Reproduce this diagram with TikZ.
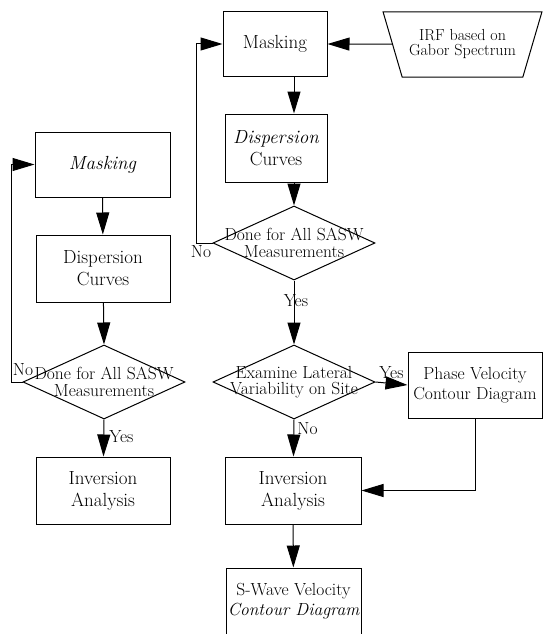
\documentclass[tikz,border=0pt]{standalone}
\usepackage{fontspec}
\usetikzlibrary{arrows.meta,shapes.geometric}

\begin{document}
\begin{tikzpicture}[x=1pt,y=-1pt,line width=1pt,
  procbox/.style={draw,align=center,inner sep=0pt,font=\fontsize{19}{22}\selectfont},
  widebox/.style={procbox,font=\fontsize{17.5}{20}\selectfont},
  decbox/.style={draw,diamond,inner sep=0pt,minimum width=162pt,minimum height=74pt},
  dectext/.style={align=center,inner sep=0pt,font=\fontsize{17.5}{16.5}\selectfont},
  tag/.style={inner sep=0pt,font=\fontsize{17.5}{17.5}\selectfont},
  flow/.style={-{Triangle[length=22pt,width=13pt]}}]
  \useasboundingbox (0,0) rectangle (543,634);
  % left column
  \node[procbox,minimum width=135pt,minimum height=65pt] (Lmask) at (102.5,164.5) {\itshape Masking};
  \node[procbox,minimum width=134pt,minimum height=67pt] (Ldisp) at (103,268.5) {Dispersion\\Curves};
  \node[decbox] (Ldec) at (104,382) {};
  \node[dectext] (Ldect) at (Ldec) {Done for All SASW\\Measurements};
  \node[procbox,minimum width=134pt,minimum height=67pt] (Linv) at (103,490.5) {Inversion\\Analysis};
  \draw[flow] (Lmask) -- (Ldisp);
  \draw[flow] (Ldisp) -- (Ldec.north);
  \draw[flow] (Ldec.south) -- (Linv) node[tag,pos=0.45,right=5pt] (Lyes) {Yes};
  \draw[flow] (Ldec.west) -- ++(-11,0) |- (Lmask.west);
  \node[tag] (Lno) at (23,370) {No};
  % right column
  \node[procbox,minimum width=104pt,minimum height=64pt] (Rmask) at (275,44) {Masking};
  \node[draw,trapezium,trapezium left angle=60,trapezium right angle=60,shape border rotate=180,
    trapezium stretches=true,minimum width=159pt,minimum height=65pt,inner sep=0pt,align=center,
    font=\fontsize{16}{15}\selectfont] (irf) at (462.5,44.5) {IRF based on\\Gabor Spectrum};
  \node[procbox,minimum width=102pt,minimum height=68pt] (Rdisp) at (276,148) {\itshape Dispersion\\Curves};
  \node[decbox] (Rdeca) at (294,243) {};
  \node[dectext] (Rdecat) at (Rdeca) {Done for All SASW\\Measurements};
  \node[decbox] (Rdecb) at (294,382) {};
  \node[dectext] (Rdecbt) at (Rdecb) {Examine Lateral\\Variability on Site};
  \node[widebox,minimum width=134pt,minimum height=66pt] (phase) at (475,385) {Phase Velocity\\Contour Diagram};
  \node[procbox,minimum width=136pt,minimum height=67pt] (Rinv) at (293,490.5) {Inversion\\Analysis};
  \node[widebox,minimum width=135pt,minimum height=67pt] (swave) at (293.5,601.5) {S-Wave Velocity\\\itshape Contour Diagram};
  \draw[flow] (irf) -- (Rmask.east);
  \draw[flow] (Rdeca.north |- Rmask.south) -- (Rdeca.north |- Rdisp.north);
  \draw[flow] (Rdeca.north |- Rdisp.south) -- (Rdeca.north);
  \draw[flow] (Rdeca.west) -- ++(-16,0) |- (Rmask.west);
  \node[tag,anchor=north] (Rno) at (201,245) {No};
  \draw[flow] (Rdeca.south) -- (Rdecb.north) node[tag,pos=0.32,xshift=2pt] (Ryes) {Yes};
  \draw[flow] (Rdecb.east) -- (phase.west) node[tag,midway,above=4pt] (Pyes) {Yes};
  \draw[flow] (Rdecb.south) -- (Rinv) node[tag,pos=0.25,right=3pt] (Pno) {No};
  \draw[flow] (phase.south) |- (Rinv.east);
  \draw[flow] (Rinv) -- (swave);
\end{tikzpicture}
\end{document}
